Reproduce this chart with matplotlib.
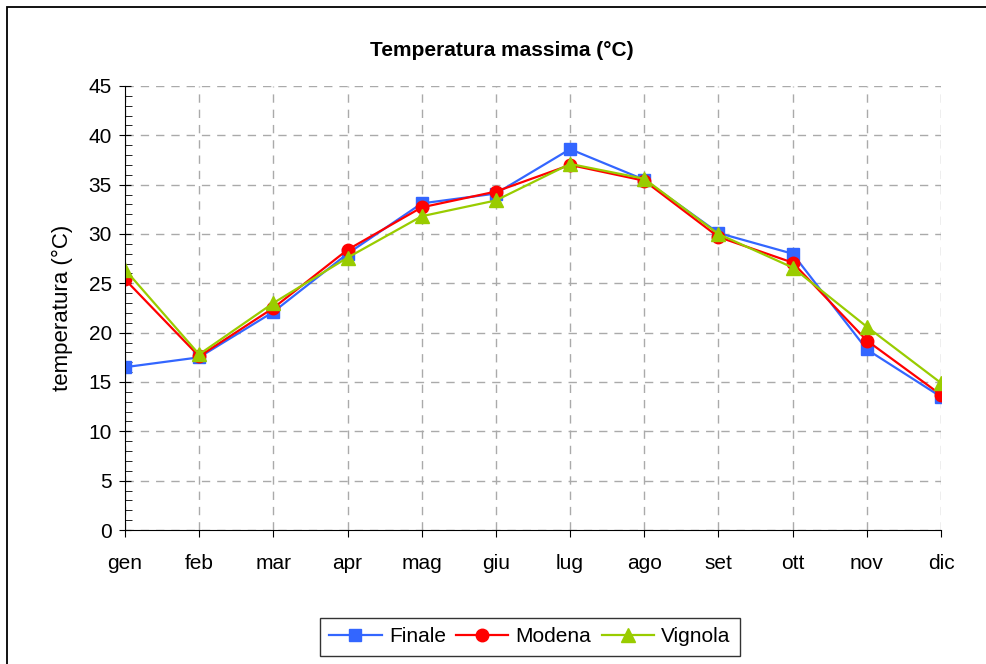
import matplotlib.pyplot as plt
from matplotlib.ticker import MultipleLocator
from matplotlib.patches import Rectangle

plt.rcParams['font.family'] = ['Liberation Sans', 'DejaVu Sans']

mesi = ['gen', 'feb', 'mar', 'apr', 'mag', 'giu', 'lug', 'ago', 'set', 'ott', 'nov', 'dic']
finale = [16.5, 17.5, 22.1, 28.0, 33.1, 34.1, 38.6, 35.5, 30.1, 28.0, 18.3, 13.5]
modena = [25.4, 17.6, 22.5, 28.4, 32.7, 34.3, 37.0, 35.4, 29.7, 27.1, 19.2, 13.7]
vignola = [26.4, 17.8, 23.0, 27.6, 31.8, 33.4, 37.1, 35.6, 30.0, 26.6, 20.6, 14.9]

fig = plt.figure(figsize=(9.87, 6.64), dpi=100)
ax = fig.add_axes([0.1266, 0.2018, 0.8268, 0.6687])

# cornice esterna (solo lati sinistro e superiore visibili)
fig.patches.append(Rectangle((7 / 987, -0.1), 1.2, 1 - 7 / 664 + 0.1, transform=fig.transFigure,
                             fill=False, edgecolor='black', linewidth=1.3))

x = range(len(mesi))
ax.plot(x, finale, color='#3366ff', marker='s', markersize=9, linewidth=1.6, label='Finale')
ax.plot(x, modena, color='#ff0000', marker='o', markersize=9, linewidth=1.6, label='Modena')
ax.plot(x, vignola, color='#99cc00', marker='^', markersize=10, linewidth=1.6, label='Vignola')

ax.set_xlim(0, len(mesi) - 1)
ax.set_ylim(0, 45)
ax.set_xticks(list(x))
ax.set_xticklabels(mesi, fontsize=15)
ax.yaxis.set_major_locator(MultipleLocator(5))
ax.yaxis.set_minor_locator(MultipleLocator(1))
ax.tick_params(axis='y', which='major', direction='inout', length=9, labelsize=15, pad=5)
ax.tick_params(axis='y', which='minor', direction='in', length=5)
ax.tick_params(axis='x', which='major', direction='out', length=5, pad=12)

ax.grid(True, which='major', color='#aaaaaa', linestyle=(0, (6, 5)), linewidth=1)
ax.spines['top'].set_visible(False)
ax.spines['right'].set_visible(False)
ax.spines['left'].set_color('black')
ax.spines['bottom'].set_color('black')

ax.set_ylabel('temperatura (°C)', fontsize=16, labelpad=11)
fig.text(0.508, 1 - 50 / 664, 'Temperatura massima (°C)', ha='center', va='center',
         fontsize=15, fontweight='bold')

leg = fig.legend(loc='center', bbox_to_anchor=(530 / 987, 1 - 637 / 664), ncol=3, fontsize=15,
                 frameon=True, fancybox=False, edgecolor='black', handlelength=2.5,
                 columnspacing=0.5, handletextpad=0.35, borderpad=0.45)
leg.get_frame().set_linewidth(1)

fig.savefig('out.png', dpi=100)
